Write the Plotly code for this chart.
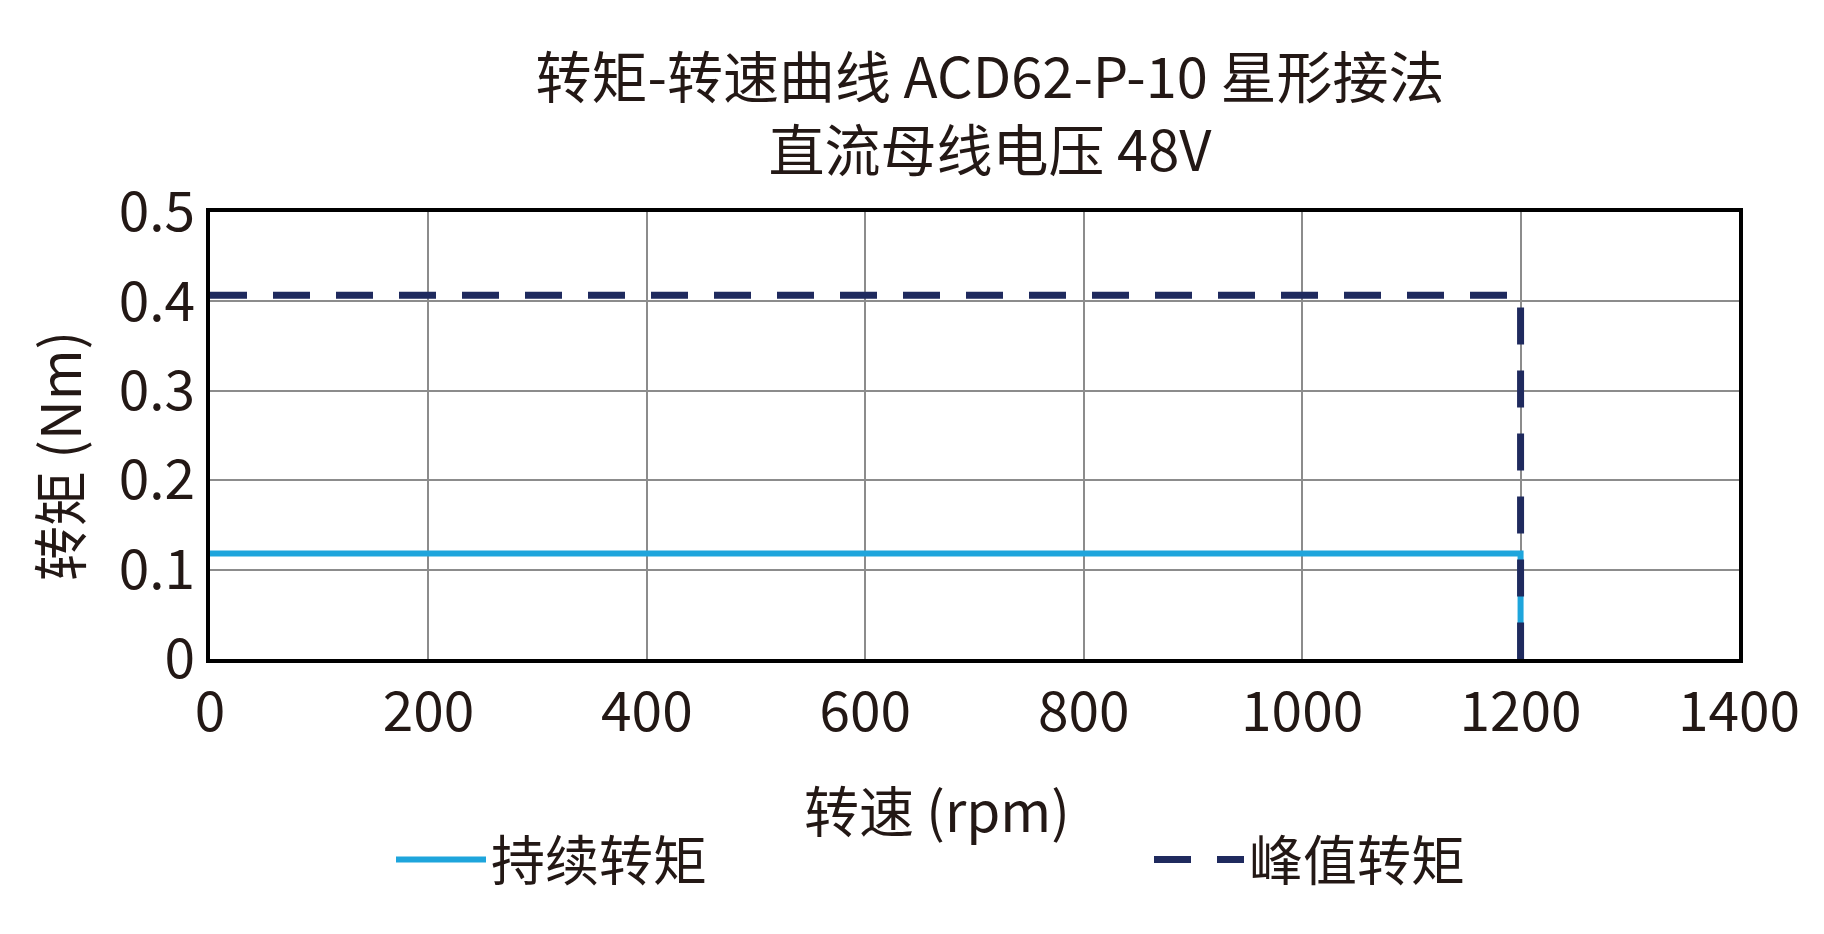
import plotly.graph_objects as go

# continuous and peak torque
speed_cont = [0, 1200, 1200]
torque_cont = [0.118, 0.118, 0]
speed_peak = [0, 1200, 1200]
torque_peak = [0.407, 0.407, 0]

name_cont = "持续转矩"
name_peak = "峰值转矩"
x_ticks = [0, 200, 400, 600, 800, 1000, 1200, 1400]
y_ticks = [0, 0.1, 0.2, 0.3, 0.4, 0.5]
y_labels = ["0", "0.1", "0.2", "0.3", "0.4", "0.5"]

FONT = "Noto Sans CJK SC"
INK = "#231815"

# plot area in pixels
L, R, T, B = 202, 1731, 204, 651
W, H = R - L, B - T


def px_x(x):
    return (x - L) / W


def px_y(y):
    return (B - y) / H


fig = go.Figure()

fig.add_trace(go.Scatter(
    x=speed_cont, y=torque_cont, name=name_cont, mode="lines",
    line=dict(color="#1ea5dc", width=6),
    legend="legend"
))
fig.add_trace(go.Scatter(
    x=speed_peak, y=torque_peak, name=name_peak, mode="lines",
    line=dict(color="#1f2a5e", width=7, dash="37px,26px"),
    legend="legend2"
))

axis_common = dict(
    showline=True, mirror=True, linecolor="#000000", linewidth=4,
    showgrid=True, gridcolor="#8c8c8c", gridwidth=2,
    zeroline=False, ticks="",
    tickfont=dict(family=FONT, size=55, color=INK),
)

fig.update_xaxes(range=[0, 1400], tickvals=x_ticks, ticklabelstandoff=2, **axis_common)
fig.update_yaxes(range=[0, 0.5], tickvals=y_ticks, ticktext=y_labels, ticklabelstandoff=0, **axis_common)

legend_common = dict(
    orientation="h", yref="paper", y=px_y(852), yanchor="middle",
    xanchor="left", font=dict(family=FONT, size=54, color=INK),
    itemwidth=90, bgcolor="rgba(0,0,0,0)", traceorder="normal",
)

fig.update_layout(
    width=1824, height=934,
    margin=dict(l=L, r=1824 - R, t=T, b=934 - B),
    paper_bgcolor="white", plot_bgcolor="white",
    font=dict(family=FONT, color=INK),
    showlegend=True,
    title=dict(
        text="转矩-转速曲线 ACD62-P-10 星形接法<br>直流母线电压 48V",
        font=dict(family=FONT, size=56, color=INK),
        xref="container", x=982 / 1824, xanchor="center",
        yref="container", y=1 - 90 / 934, yanchor="middle",
    ),
    legend=dict(x=px_x(383), xref="paper", **legend_common),
    legend2=dict(x=px_x(1141), xref="paper", **legend_common),
    annotations=[
        dict(text="转速 (rpm)", xref="paper", yref="paper",
             x=px_x(929), y=px_y(800), xanchor="center", yanchor="middle",
             showarrow=False, font=dict(family=FONT, size=55, color=INK)),
        dict(text="转矩 (Nm)", xref="paper", yref="paper",
             x=px_x(49), y=px_y(448), xanchor="center", yanchor="middle",
             textangle=-90, showarrow=False,
             font=dict(family=FONT, size=55, color=INK)),
    ],
)

fig.write_html("out.html")
